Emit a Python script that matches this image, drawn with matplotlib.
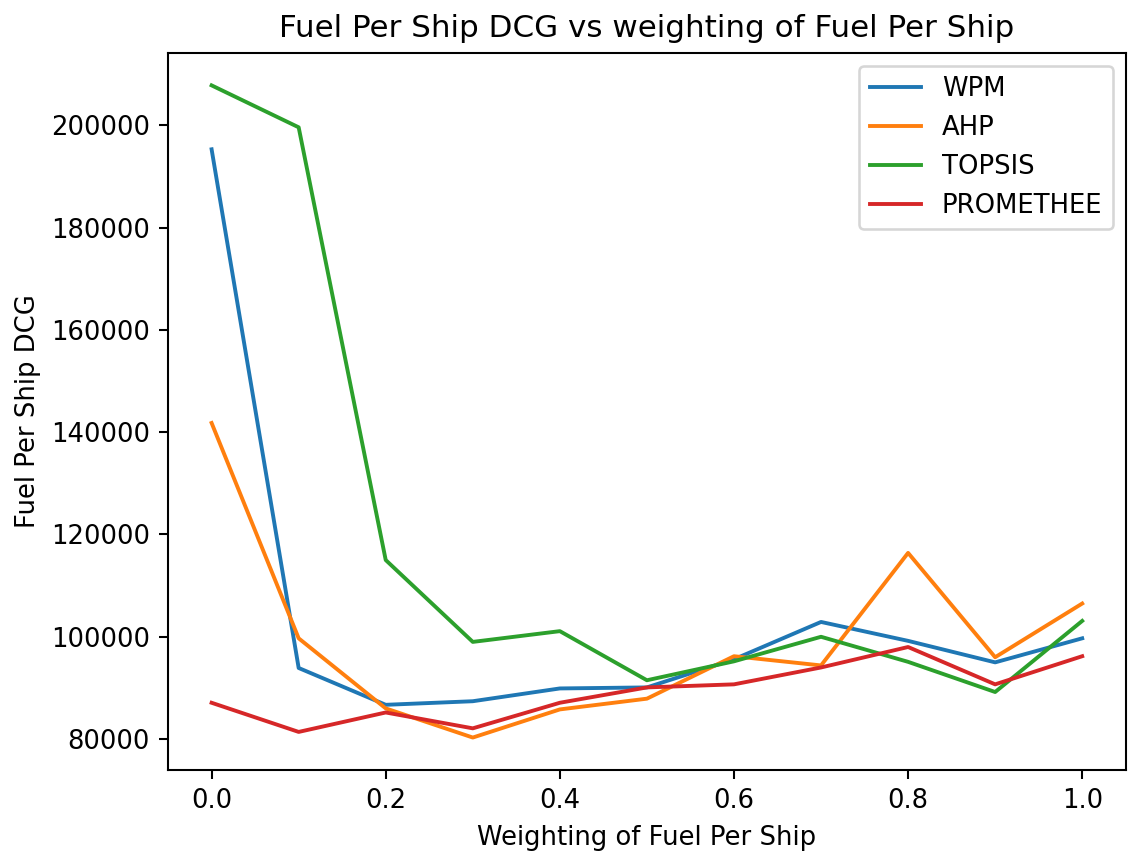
import matplotlib
matplotlib.use("Agg")
import matplotlib.pyplot as plt

weights = [0.0, 0.1, 0.2, 0.3, 0.4, 0.5, 0.6, 0.7, 0.8, 0.9, 1.0]
wpm = [195300, 93900, 86700, 87400, 89900, 90100, 95600, 102900, 99200, 95000, 99700]
ahp = [141800, 99700, 86000, 80300, 85800, 87900, 96200, 94400, 116400, 96000, 106500]
topsis = [207800, 199600, 115000, 99000, 101100, 91500, 95200, 100000, 95100, 89200, 103100]
promethee = [87100, 81400, 85200, 82100, 87100, 90100, 90700, 94000, 98000, 90700, 96200]

DPI = 186
fig, ax = plt.subplots(figsize=(1128 / DPI, 851 / DPI), dpi=DPI)
ax.plot(weights, wpm, label="WPM")
ax.plot(weights, ahp, label="AHP")
ax.plot(weights, topsis, label="TOPSIS")
ax.plot(weights, promethee, label="PROMETHEE")
ax.set_title("Fuel Per Ship DCG vs weighting of Fuel Per Ship")
ax.set_xlabel("Weighting of Fuel Per Ship")
ax.set_ylabel("Fuel Per Ship DCG")
ax.legend()
fig.subplots_adjust(left=0.149, right=0.998, top=0.938, bottom=0.095)
fig.savefig("out.png", dpi=DPI)
